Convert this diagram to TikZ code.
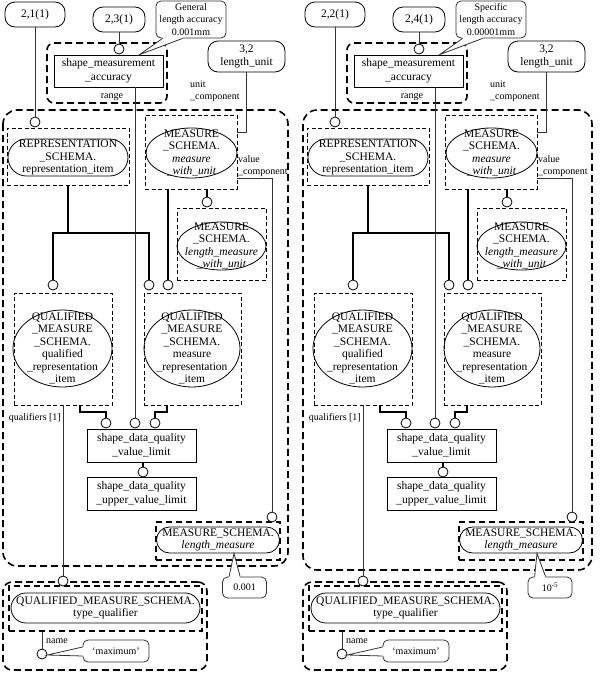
\documentclass[tikz,border=0pt]{standalone}
\usepackage{fontspec}
\setmainfont{Liberation Serif}
\usetikzlibrary{shapes.geometric,shapes.misc,calc}

\newcommand\mainsz{\fontsize{11.5pt}{12.4pt}\selectfont}
\newcommand\rectsz{\fontsize{11.5pt}{14pt}\selectfont}
\newcommand\smallsz{\fontsize{10pt}{12.2pt}\selectfont}

\tikzset{
  txt/.style={inner sep=0pt, align=center, font=\mainsz},
  idbox/.style={txt, draw, fill=white, rounded corners=10pt, line width=0.8pt},
  entbox/.style={txt, draw, fill=white, line width=0.8pt, font=\rectsz},
  pill/.style={draw, rounded rectangle, inner sep=0pt, line width=0.8pt},
  ell/.style={draw, ellipse, inner sep=0pt, line width=0.8pt},
  thindash/.style={draw, dash pattern=on 4pt off 2.5pt, line width=0.7pt, inner sep=0pt},
  middash/.style={draw, dash pattern=on 6pt off 4pt, line width=1.2pt, inner sep=0pt},
  bigdash/.style={draw, dash pattern=on 7pt off 4pt, line width=1.6pt},
  ring/.style={circle, draw, fill=white, inner sep=0pt, minimum size=10pt, line width=0.8pt},
  thinline/.style={line width=0.8pt, black!80},
  thickline/.style={line width=2.8pt},
  note/.style={txt, draw=black!80, fill=white, rounded corners=5pt, line width=0.8pt, font=\smallsz},
  lbl/.style={inner sep=0pt, font=\smallsz, align=left},
}

% One half of the schema: #1 name prefix, #2 tag of the item, #3 tag of the accuracy,
% #4 accuracy note, #5 limit value
\newcommand\halfpart[5]{%
  % outer frame of the limit group
  \draw[bigdash, rounded corners=14pt] (3,110) rectangle (\bbR,\bbB);
  % reference tags
  \node[idbox, minimum width=60pt, minimum height=25pt] (#1tagA) at (35,14.5) {#2};
  \node[idbox, minimum width=52pt, minimum height=25pt] (#1tagB) at (119,19.5) {#3};
  \node[idbox, minimum width=77pt, minimum height=31pt] (#1unit) at (246.5,56.5) {3,2\\length\_unit};
  % shape_measurement_accuracy
  \node[bigdash, rounded corners=7pt, minimum width=120pt, minimum height=60pt] (#1accf) at (107,73) {};
  \node[entbox, minimum width=109pt, minimum height=32pt] (#1acc) at (108.5,71) {shape\_measurement\\\_accuracy};
  \node[ring] (#1accr) at (119,49) {};
  \node[lbl] (#1range) at (112,97) {range};
  \node[lbl, anchor=west] (#1ucomp) at (190,91) {unit\\\_component};
  % accuracy note
  \node[note, minimum width=70pt, minimum height=37pt] (#1note) at (191,19.5) {#4};
  \coordinate (#1noteT) at ($(#1acc.north west)+(86,0)$);
  \coordinate (#1noteA) at ($(#1note.south west)+(7,0)$);
  \coordinate (#1noteB) at ($(#1note.south west)+(27,0)$);
  \fill[white] ($(#1noteA)+(0,-1.5)$) -- (#1noteA) -- (#1noteT) -- (#1noteB) -- ($(#1noteB)+(0,-1.5)$) -- cycle;
  \draw[thinline] (#1noteA) -- (#1noteT) -- (#1noteB);
  % representation_item
  \node[thindash, minimum width=122pt, minimum height=57pt] (#1repf) at (68,156.5) {};
  \node[pill, minimum width=120pt, minimum height=37pt] (#1rep) at (68,157.5) {};
  \node[txt] (#1rept) at (#1rep) {REPRESENTATION\\\_SCHEMA.\\representation\_item};
  \node[ring] (#1repr) at (35,122) {};
  % measure_with_unit
  \node[thindash, minimum width=92pt, minimum height=74pt] (#1mwuf) at (191,152) {};
  \node[ell, minimum width=91pt, minimum height=50pt] (#1mwu) at (191.5,153) {};
  \node[txt] (#1mwut) at (#1mwu) {MEASURE\\\_SCHEMA.\\\textit{measure}\\\textit{\_with\_unit}};
  \node[lbl, anchor=west] (#1vcomp) at (238,166) {value\\\_component};
  % length_measure_with_unit
  \node[thindash, minimum width=89pt, minimum height=72pt] (#1lmwuf) at (221.5,244) {};
  \node[ell, minimum width=89pt, minimum height=48pt] (#1lmwu) at (221.5,246) {};
  \node[txt] (#1lmwut) at (#1lmwu) {MEASURE\\\_SCHEMA.\\\textit{length\_measure}\\\textit{\_with\_unit}};
  \node[ring] (#1lmwur) at (207,202) {};
  % qualified_representation_item
  \node[thindash, minimum width=98pt, minimum height=112pt] (#1qrif) at (63,349) {};
  \node[ell, minimum width=99pt, minimum height=77pt] (#1qri) at (62.5,348.5) {};
  \node[txt] (#1qrit) at (#1qri) {QUALIFIED\\\_MEASURE\\\_SCHEMA.\\qualified\\\_representation\\\_item};
  \node[ring] (#1qrir) at (53,285) {};
  % measure_representation_item
  \node[thindash, minimum width=97pt, minimum height=112pt] (#1mrif) at (192.5,349) {};
  \node[ell, minimum width=96pt, minimum height=77pt] (#1mri) at (192,348.5) {};
  \node[txt] (#1mrit) at (#1mri) {QUALIFIED\\\_MEASURE\\\_SCHEMA.\\measure\\\_representation\\\_item};
  \node[ring] (#1mrirA) at (149,285) {};
  \node[ring] (#1mrirB) at (168,285) {};
  % value limits
  \node[entbox, minimum width=109pt, minimum height=33pt] (#1vl) at (141.5,445.5) {shape\_data\_quality\\\_value\_limit};
  \node[ring] (#1vlA) at (106,423) {};
  \node[ring] (#1vlB) at (135,423) {};
  \node[ring] (#1vlC) at (155,423) {};
  \node[lbl, anchor=east] (#1qual) at (61,418) {qualifiers [1]};
  \node[ring] (#1uvlr) at (143,472) {};
  \node[entbox, minimum width=109pt, minimum height=33pt] (#1uvl) at (141.5,493.5) {shape\_data\_quality\\\_upper\_value\_limit};
  % length_measure
  \node[middash, minimum width=124pt, minimum height=38pt] (#1lmf) at (\lmX,541) {};
  \node[pill, minimum width=123pt, minimum height=26pt] (#1lm) at (\lmX,540) {};
  \node[txt] (#1lmt) at (#1lm) {MEASURE\_SCHEMA.\\\textit{length\_measure}};
  \node[ring] (#1lmr) at (272,517) {};
  % limit value note
  \node[note, minimum width=44pt, minimum height=21pt] (#1val) at (\vcX,587.5) {#5};
  \coordinate (#1valT) at ($(#1lm.south)+(16,0)$);
  \coordinate (#1valA) at ($(#1val.north west)+(7,0)$);
  \coordinate (#1valB) at ($(#1val.north west)+(18,0)$);
  \fill[white] ($(#1valA)+(0,1.5)$) -- (#1valA) -- (#1valT) -- (#1valB) -- ($(#1valB)+(0,1.5)$) -- cycle;
  \draw[thinline] (#1valA) -- (#1valT) -- (#1valB);
  % type_qualifier
  \node[bigdash, rounded corners=9pt, minimum width=204pt, minimum height=88pt] (#1tqo) at (105,626) {};
  \node[middash, minimum width=193pt, minimum height=45pt] (#1tqf) at (105.5,608.5) {};
  \node[pill, minimum width=189pt, minimum height=30pt] (#1tq) at (105.5,608) {};
  \node[txt] (#1tqt) at (#1tq) {QUALIFIED\_MEASURE\_SCHEMA.\\type\_qualifier};
  \node[ring] (#1tqr) at (63,581) {};
  \node[ring] (#1name) at (42,654) {};
  \node[lbl, anchor=west] (#1namel) at (46,641) {name};
  \node[note, minimum width=66pt, minimum height=22pt] (#1max) at (116,651) {`maximum'};
  \coordinate (#1maxT) at ($(#1name.east)+(0,1)$);
  \coordinate (#1maxA) at ($(#1max.west)+(0,-4)$);
  \coordinate (#1maxB) at ($(#1max.west)+(0,5)$);
  \fill[white] ($(#1maxA)+(1.5,0)$) -- (#1maxA) -- (#1maxT) -- (#1maxB) -- ($(#1maxB)+(1.5,0)$) -- cycle;
  \draw[thinline] (#1maxA) -- (#1maxT) -- (#1maxB);
  % thin connectors
  \draw[thinline] (#1tagA) -- (#1repr);
  \draw[thinline] (#1tagB) -- (#1accr);
  \draw[thinline] (#1acc.south -| #1vlB) -- (#1vlB);
  \draw[thinline] (#1unit.south) |- ($(#1mwuf.north east)+(0,18)$);
  \draw[thinline] ($(#1mwuf.south east)+(0,-11)$) -| (#1lmr);
  \draw[thinline] (#1qrif.south) -- (#1tqr);
  \draw[thinline] (#1tqf.south -| #1name) -- (#1name);
  % thick connectors
  \coordinate (#1split) at (68,233);
  \draw[thickline] (#1repf.south) -- (#1split);
  \draw[thickline] (#1qrir) |- (#1split) -| (#1mrirA);
  \draw[thickline] (#1mwuf.south -| #1mrirB) -- (#1mrirB);
  \draw[thickline] (#1mwuf.south -| #1lmwur) -- (#1lmwur);
  \coordinate (#1kA) at (80,412);
  \draw[thickline] (#1qrif.south -| #1kA) -- (#1kA) -| (#1vlA);
  \coordinate (#1kB) at (167,412);
  \draw[thickline] (#1mrif.south -| #1kB) -- (#1kB) -| (#1vlC);
  \draw[thickline] (#1vl.south -| #1uvlr) -- (#1uvlr);
}

\begin{document}
\begin{tikzpicture}[x=1pt, y=-1pt]
  \useasboundingbox (0,0) rectangle (604,675);
  \def\bbR{288}\def\bbB{566}\def\lmX{218}\def\vcX{244.5}
  \halfpart{L}{2,1(1)}{2,3(1)}{General\\length accuracy\\0.001mm}{0.001}
  \begin{scope}[xshift=300pt]
    \def\bbR{292}\def\bbB{570}\def\lmX{221}\def\vcX{250}
    \halfpart{R}{2,2(1)}{2,4(1)}{Specific\\length accuracy\\0.00001mm}{10\textsuperscript{-5}}
  \end{scope}
\end{tikzpicture}
\end{document}
